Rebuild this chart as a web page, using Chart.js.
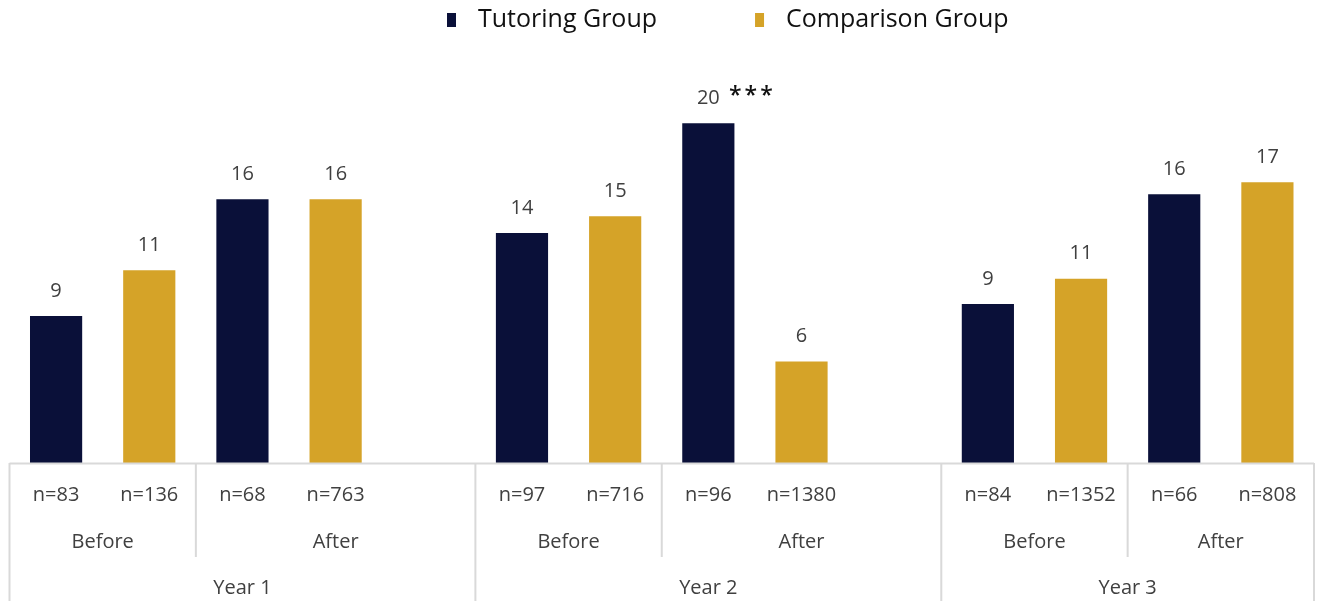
<!DOCTYPE html>
<html>
<head>
<meta charset="utf-8">
<title>Tutoring vs Comparison</title>
<script src="https://cdn.jsdelivr.net/npm/chart.js@4/dist/chart.umd.min.js"></script>
<style>
    html, body { margin: 0; padding: 0; background: #fff; }
    #wrap { width: 1321px; height: 601px; }
</style>
</head>
<body>
<div id="wrap"><canvas id="chart"></canvas></div>
<script>
// Values (the labels show them rounded)
const tutoringValues = [8.7, 15.6, 13.6, 20.1, 9.4, 15.9];
const comparisonValues = [11.4, 15.6, 14.6, 6.0, 10.9, 16.6];
// sample sizes shown under each bar
const tutoringN = ['n=83', 'n=68', 'n=97', 'n=96', 'n=84', 'n=66'];
const comparisonN = ['n=136', 'n=763', 'n=716', 'n=1380', 'n=1352', 'n=808'];
// significance marks next to tutoring bars
const tutoringStars = ['', '', '', '***', '', ''];
const periods = ['Before', 'After'];
const years = ['Year 1', 'Year 2', 'Year 3'];

const NAVY = '#0a1039';
const GOLD = '#d5a328';
const TEXT = '#404040';
const LINE = '#d9d9d9';
const FONT = "'Open Sans', sans-serif";

// Build the slots of the category axis: 4 bars per year, blank slot between years
var slotLabels = [];
var tutoringData = [];
var comparisonData = [];
var starData = [];
var periodGroups = [];
var yearGroups = [];

years.forEach(function (yr, y) {
    var yearStart = slotLabels.length;
    periods.forEach(function (p, pi) {
        var i = y * 2 + pi;
        periodGroups.push({ text: p, start: slotLabels.length, end: slotLabels.length + 2 });
        slotLabels.push(tutoringN[i]);
        tutoringData.push(tutoringValues[i]);
        comparisonData.push(null);
        starData.push(tutoringStars[i]);
        slotLabels.push(comparisonN[i]);
        tutoringData.push(null);
        comparisonData.push(comparisonValues[i]);
        starData.push('');
    });
    if (y < years.length - 1) {
        slotLabels.push('');
        tutoringData.push(null);
        comparisonData.push(null);
        starData.push('');
    }
    // "After" stretches over the blank slot
    periodGroups[periodGroups.length - 1].end = slotLabels.length;
    yearGroups.push({ text: yr, start: yearStart, end: slotLabels.length });
});

// Lines, group labels, value labels and legend
const decorations = {
    id: 'decorations',
    afterDatasetsDraw: function (chart) {
        var ctx = chart.ctx;
        ctx.save();
        ctx.textAlign = 'center';
        ctx.textBaseline = 'middle';
        chart.data.datasets.forEach(function (ds, di) {
            var meta = chart.getDatasetMeta(di);
            meta.data.forEach(function (bar, i) {
                var v = ds.data[i];
                if (v === null) return;
                ctx.fillStyle = TEXT;
                ctx.font = '20px ' + FONT;
                ctx.fillText(String(Math.round(v)), bar.x, bar.y - 25);
                if (di === 0 && starData[i]) {
                    ctx.fillStyle = '#111';
                    ctx.font = '600 23px ' + FONT;
                    ctx.letterSpacing = '3px';
                    ctx.fillText(starData[i], bar.x + 44, bar.y - 27);
                    ctx.letterSpacing = '0px';
                }
            });
        });
        ctx.restore();
    },
    afterDraw: function (chart) {
        var ctx = chart.ctx;
        var x = chart.scales.x;
        var area = chart.chartArea;
        var slotW = x.getPixelForValue(1) - x.getPixelForValue(0);
        var edge = function (i) { return x.getPixelForValue(0) - slotW / 2 + i * slotW; };
        var bottom = area.bottom;
        var H = chart.height;

        ctx.save();
        ctx.strokeStyle = LINE;
        ctx.lineWidth = 2;
        ctx.beginPath();
        ctx.moveTo(edge(0), bottom + 0.5);
        ctx.lineTo(edge(slotLabels.length), bottom + 0.5);
        yearGroups.forEach(function (g) {
            ctx.moveTo(edge(g.start), bottom);
            ctx.lineTo(edge(g.start), H);
        });
        ctx.moveTo(edge(slotLabels.length), bottom);
        ctx.lineTo(edge(slotLabels.length), H);
        periodGroups.forEach(function (g) {
            if (yearGroups.some(function (yg) { return yg.start === g.start; })) return;
            ctx.moveTo(edge(g.start), bottom);
            ctx.lineTo(edge(g.start), bottom + 94);
        });
        ctx.stroke();

        ctx.fillStyle = TEXT;
        ctx.font = '20px ' + FONT;
        ctx.textAlign = 'center';
        ctx.textBaseline = 'middle';
        periodGroups.forEach(function (g) {
            ctx.fillText(g.text, (edge(g.start) + edge(g.end)) / 2, bottom + 79);
        });
        yearGroups.forEach(function (g) {
            ctx.fillText(g.text, (edge(g.start) + edge(g.end)) / 2, bottom + 125);
        });

        // legend
        ctx.font = '25px ' + FONT;
        ctx.textAlign = 'left';
        var lx = 447;
        chart.data.datasets.forEach(function (ds) {
            ctx.fillStyle = ds.backgroundColor;
            ctx.fillRect(lx, 13, 9, 14);
            ctx.fillStyle = '#111';
            ctx.fillText(ds.label, lx + 31, 20);
            lx += 31 + ctx.measureText(ds.label).width + 98;
        });
        ctx.restore();
    }
};

const ctx = document.getElementById('chart').getContext('2d');
const chart = new Chart(ctx, {
    type: 'bar',
    data: {
        labels: slotLabels,
        datasets: [{
            label: 'Tutoring Group',
            data: tutoringData,
            backgroundColor: NAVY,
            grouped: false,
            categoryPercentage: 1,
            barPercentage: 0.56
        }, {
            label: 'Comparison Group',
            data: comparisonData,
            backgroundColor: GOLD,
            grouped: false,
            categoryPercentage: 1,
            barPercentage: 0.56
        }]
    },
    options: {
        responsive: true,
        maintainAspectRatio: false,
        animation: false,
        layout: { padding: { top: 91, left: 9.5, right: 7, bottom: 0 } },
        plugins: {
            legend: { display: false },
            tooltip: { enabled: false }
        },
        scales: {
            x: {
                grid: { display: false, drawTicks: false },
                border: { display: false },
                ticks: {
                    autoSkip: false,
                    maxRotation: 0,
                    padding: 20,
                    color: TEXT,
                    font: { family: FONT, size: 20 }
                },
                afterFit: function (scale) { scale.height = 138; }
            },
            y: {
                display: false,
                min: 0,
                max: 22
            }
        }
    },
    plugins: [decorations]
});
</script>
</body>
</html>
